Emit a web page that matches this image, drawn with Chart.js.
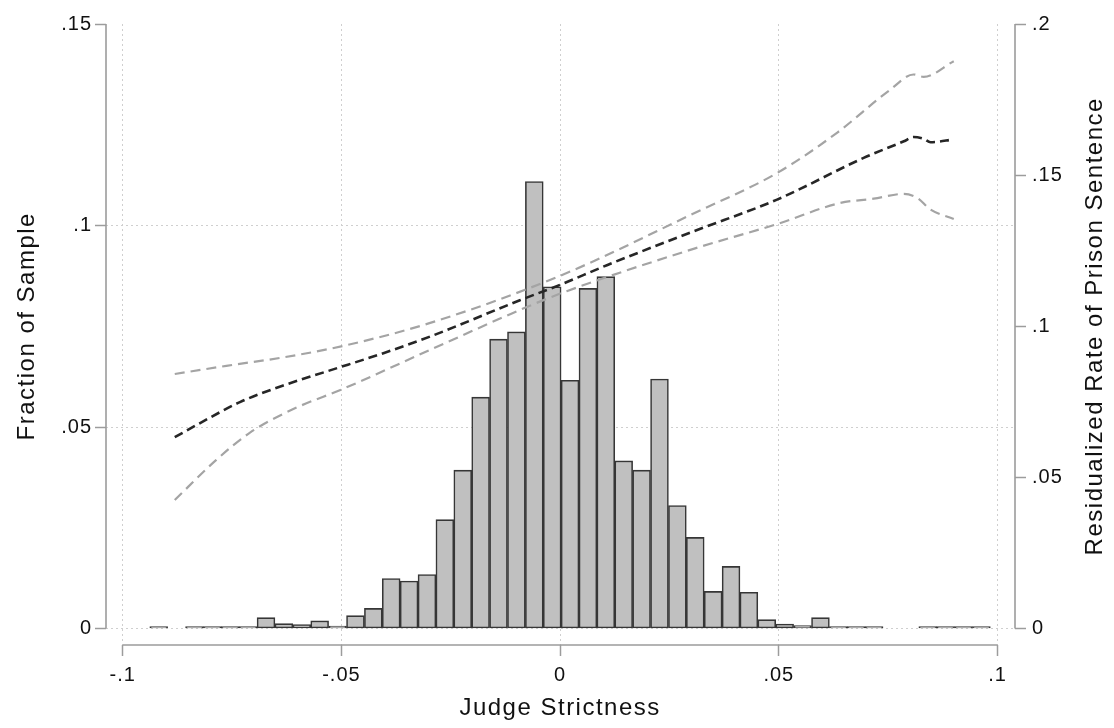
<!DOCTYPE html>
<html lang="en">
<head>
<meta charset="utf-8">
<title>Judge Strictness</title>
<script src="https://cdn.jsdelivr.net/npm/chart.js@4.4.0/dist/chart.umd.min.js"></script>
<style>
  html, body { margin: 0; padding: 0; background: #fff; }
  #grafico { display: block; }
</style>
</head>
<body>
<canvas id="grafico" width="1114" height="728"></canvas>
<script>
// 0) Dados

// centros dos bins do histograma (Judge Strictness)
const binCenters = [
  -0.09177, -0.08768, -0.08359, -0.07951, -0.07542, -0.07133, -0.06724, -0.06315,
  -0.05906, -0.05497, -0.05088, -0.04679, -0.04270, -0.03862, -0.03453, -0.03044,
  -0.02635, -0.02226, -0.01817, -0.01408, -0.00999, -0.00590, -0.00181,
   0.00227,  0.00636,  0.01045,  0.01454,  0.01863,  0.02272,  0.02681,  0.03090,
   0.03499,  0.03908,  0.04316,  0.04725,  0.05134,  0.05543,  0.05952,  0.06361,
   0.06770,  0.07179,  0.07588,  0.07997,  0.08405,  0.08814,  0.09223,  0.09632
];
// fração da amostra em cada bin (null = bin vazio)
const fraction = [
  0.0005, null,   0.0002, 0.0004, 0.0001, 0.0004, 0.0027, 0.0012,
  0.0010, 0.0019, 0.0006, 0.0032, 0.0050, 0.0124, 0.0118, 0.0134,
  0.0270, 0.0393, 0.0574, 0.0718, 0.0736, 0.1109, 0.0848,
  0.0616, 0.0844, 0.0873, 0.0416, 0.0393, 0.0619, 0.0305, 0.0226,
  0.0092, 0.0154, 0.0090, 0.0022, 0.0011, 0.0007, 0.0027, 0.0001,
  0.0002, 0.0001, null,   null,   0.0005, 0.0001, 0.0004, 0.0002
];

// curva ajustada (eixo direito)
const fitX = [-0.0881, -0.0824, -0.0732, -0.0633, -0.0526, -0.0404, -0.0297, -0.0092, 0, 0.0107, 0.0305, 0.0496, 0.0694, 0.0786, 0.0808, 0.0831, 0.0847, 0.0900];
const fitY = [0.0633, 0.0679, 0.0749, 0.0804, 0.0854, 0.0911, 0.0966, 0.1086, 0.1137, 0.1202, 0.1314, 0.1419, 0.1557, 0.1612, 0.1626, 0.1620, 0.1609, 0.1618];

// intervalo de confiança
const upperX = [-0.0881, -0.0763, -0.0633, -0.0496, -0.0297, 0, 0.0305, 0.0496, 0.0633, 0.0755, 0.0808, 0.0831, 0.0900];
const upperY = [0.0842, 0.0869, 0.0897, 0.0935, 0.1011, 0.1167, 0.1373, 0.1507, 0.1640, 0.1783, 0.1833, 0.1825, 0.1877];
const lowerX = [-0.0881, -0.0786, -0.0709, -0.0610, -0.0496, -0.0297, -0.0069, 0.0015, 0.0305, 0.0496, 0.0641, 0.0717, 0.0786, 0.0816, 0.0847, 0.0900];
const lowerY = [0.0425, 0.0558, 0.0648, 0.0726, 0.0793, 0.0922, 0.1068, 0.1116, 0.1256, 0.1338, 0.1408, 0.1422, 0.1438, 0.1425, 0.1386, 0.1355];

// ticks e rótulos
const xTicks      = [-0.1, -0.05, 0, 0.05, 0.1];
const xTickLabels = ['-.1', '-.05', '0', '.05', '.1'];
const leftTicks      = [0, 0.05, 0.1, 0.15];
const leftTickLabels = ['0', '.05', '.1', '.15'];
const rightTicks      = [0, 0.05, 0.1, 0.15, 0.2];
const rightTickLabels = ['0', '.05', '.1', '.15', '.2'];

const xTitle     = 'Judge Strictness';
const leftTitle  = 'Fraction of Sample';
const rightTitle = 'Residualized Rate of Prison Sentence';

// 1) Estilo
const FONTE      = '"Liberation Sans", Arial, Helvetica, sans-serif';
const COR_EIXO   = '#9c9c9c';
const COR_GRADE  = '#cfcfcf';
const COR_TEXTO  = '#111111';

Chart.defaults.font.family = FONTE;
Chart.defaults.color = COR_TEXTO;

function pares(xs, ys) {
  return xs.map((x, i) => ({ x, y: ys[i] }));
}

// 2) Eixos "soltos" estilo Stata + títulos
const eixosStata = {
  id: 'eixosStata',
  beforeDraw(chart) {
    chart.ctx.letterSpacing = '1px';
  },
  afterDraw(chart) {
    const { ctx, chartArea, scales } = chart;
    const sx = scales.x, sy = scales.y, sy2 = scales.y2;
    ctx.save();
    ctx.strokeStyle = COR_EIXO;
    ctx.lineWidth   = 1.6;
    ctx.beginPath();
    ctx.moveTo(chartArea.left, sy.getPixelForValue(leftTicks[0]));
    ctx.lineTo(chartArea.left, sy.getPixelForValue(leftTicks[leftTicks.length - 1]));
    ctx.moveTo(chartArea.right, sy2.getPixelForValue(rightTicks[0]));
    ctx.lineTo(chartArea.right, sy2.getPixelForValue(rightTicks[rightTicks.length - 1]));
    ctx.moveTo(sx.getPixelForValue(xTicks[0]), chartArea.bottom);
    ctx.lineTo(sx.getPixelForValue(xTicks[xTicks.length - 1]), chartArea.bottom);
    ctx.stroke();

    ctx.letterSpacing = '1.5px';
    ctx.fillStyle     = COR_TEXTO;
    ctx.font          = '24px ' + FONTE;
    ctx.textAlign     = 'center';
    ctx.textBaseline  = 'middle';
    ctx.fillText(xTitle, sx.getPixelForValue(0), 708);

    const meioY = (sy.getPixelForValue(0) + sy.getPixelForValue(0.15)) / 2;
    ctx.save();
    ctx.translate(27, meioY);
    ctx.rotate(-Math.PI / 2);
    ctx.fillText(leftTitle, 0, 0);
    ctx.restore();

    ctx.save();
    ctx.translate(1095, meioY);
    ctx.rotate(-Math.PI / 2);
    ctx.fillText(rightTitle, 0, 0);
    ctx.restore();

    ctx.restore();
  }
};

function semTopo(valor) {
  return ctx => (ctx.tick && ctx.tick.value === valor) ? 'rgba(0,0,0,0)' : COR_GRADE;
}

// 3) Gráfico
new Chart(document.getElementById('grafico'), {
  type: 'bar',
  data: {
    datasets: [
      {
        type: 'line',
        data: pares(fitX, fitY),
        yAxisID: 'y2',
        borderColor: '#262626',
        borderWidth: 2.6,
        borderDash: [9, 5],
        pointRadius: 0,
        cubicInterpolationMode: 'monotone',
        order: 0
      },
      {
        type: 'line',
        data: pares(upperX, upperY),
        yAxisID: 'y2',
        borderColor: '#a4a4a4',
        borderWidth: 2.2,
        borderDash: [10, 6],
        pointRadius: 0,
        cubicInterpolationMode: 'monotone',
        order: 0
      },
      {
        type: 'line',
        data: pares(lowerX, lowerY),
        yAxisID: 'y2',
        borderColor: '#a4a4a4',
        borderWidth: 2.2,
        borderDash: [10, 6],
        pointRadius: 0,
        cubicInterpolationMode: 'monotone',
        order: 0
      },
      {
        type: 'bar',
        data: pares(binCenters, fraction),
        yAxisID: 'y',
        backgroundColor: '#c0c0c0',
        borderColor: '#363636',
        borderWidth: 1.6,
        borderSkipped: false,
        barPercentage: 1,
        categoryPercentage: 1,
        minBarLength: 2,
        order: 1
      }
    ]
  },
  options: {
    responsive: false,
    animation: false,
    devicePixelRatio: 1,
    layout: { padding: { top: 24, left: 0, right: 0, bottom: 0 } },
    plugins: {
      legend: { display: false },
      tooltip: { enabled: false }
    },
    scales: {
      x: {
        type: 'linear',
        offset: false,
        min: -0.10382,
        max: 0.10400,
        afterBuildTicks: s => { s.ticks = xTicks.map(v => ({ value: v })); },
        afterFit: s => { s.height = 83; },
        ticks: {
          callback: (v, i) => xTickLabels[i],
          font: { size: 20 },
          color: COR_TEXTO,
          padding: 7,
          maxRotation: 0,
          autoSkip: false,
          z: 1
        },
        grid: {
          offset: false,
          color: COR_GRADE,
          lineWidth: 1,
          tickLength: 11,
          tickWidth: 1.5,
          tickColor: COR_EIXO
        },
        border: { display: false, dash: [2, 3] }
      },
      y: {
        type: 'linear',
        position: 'left',
        min: -0.00409,
        max: 0.15,
        afterBuildTicks: s => { s.ticks = leftTicks.map(v => ({ value: v })); },
        afterFit: s => { s.width = 106; },
        ticks: {
          callback: (v, i) => leftTickLabels[i],
          font: { size: 20 },
          color: COR_TEXTO,
          padding: 3,
          autoSkip: false,
          z: 1
        },
        grid: {
          color: semTopo(0.15),
          lineWidth: 1,
          tickLength: 11,
          tickWidth: 1.5,
          tickColor: COR_EIXO
        },
        border: { display: false, dash: [2, 3] }
      },
      y2: {
        type: 'linear',
        position: 'right',
        min: -0.00546,
        max: 0.2,
        afterBuildTicks: s => { s.ticks = rightTicks.map(v => ({ value: v })); },
        afterFit: s => { s.width = 99; },
        ticks: {
          callback: (v, i) => rightTickLabels[i],
          font: { size: 20 },
          color: COR_TEXTO,
          padding: 6,
          autoSkip: false,
          z: 1
        },
        grid: {
          drawOnChartArea: false,
          tickLength: 11,
          tickWidth: 1.5,
          tickColor: COR_EIXO
        },
        border: { display: false }
      }
    }
  },
  plugins: [eixosStata]
});
</script>
</body>
</html>
